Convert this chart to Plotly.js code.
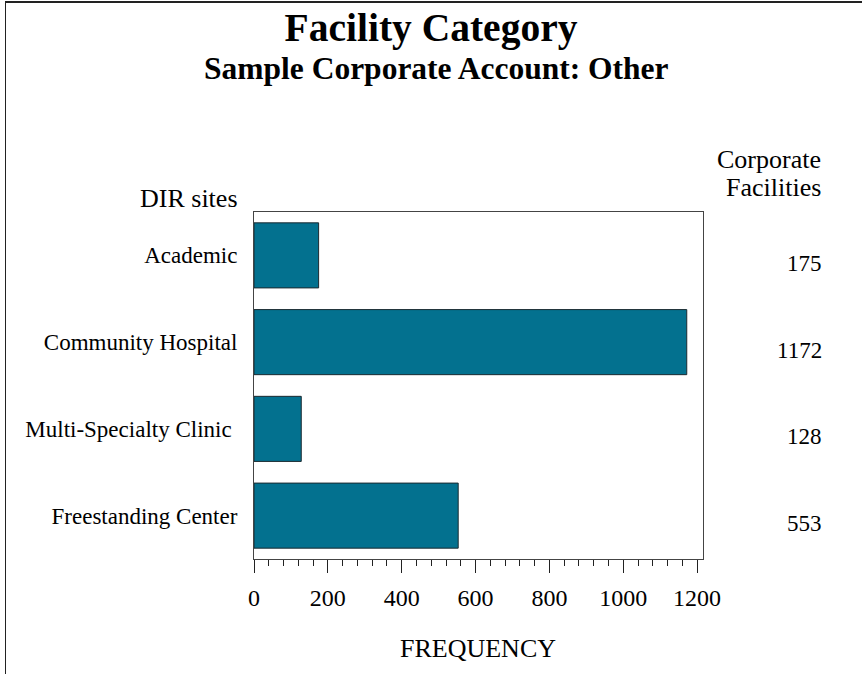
<!DOCTYPE html>
<html>
<head>
<meta charset="utf-8">
<script src="https://cdn.plot.ly/plotly-3.0.1.min.js"></script>
<style>
  html, body { margin: 0; padding: 0; background: #fff; }
  #wrap { position: relative; width: 862px; height: 674px; }
  #frame { position: absolute; left: 5px; top: 1px; width: 857px; height: 673px;
           border-top: 2px solid #222; border-left: 1px solid #222; box-sizing: border-box; pointer-events: none; z-index: 5; }
  #chart { width: 862px; height: 674px; }
</style>
</head>
<body>
<div id="wrap">
  <div id="chart"></div>
  <div id="frame"></div>
</div>
<script>
const categories = ["Academic", "Community Hospital", "Multi-Specialty Clinic ", "Freestanding Center"];
const frequencies = [175, 1172, 128, 553];
const tickValues = [0, 200, 400, 600, 800, 1000, 1200];
const tickLabels = ["0", "200", "400", "600", "800", "1000", "1200"];
const titleText = "Facility Category";
const subtitleText = "Sample Corporate Account: Other";
const leftHeader = "DIR sites";
const rightHeaderLines = ["Corporate", "Facilities"];
const xTitle = "FREQUENCY";

const FONT = "Liberation Serif, Times New Roman, serif";

const trace = {
  type: "bar",
  orientation: "h",
  y: categories,
  x: frequencies,
  marker: { color: "#03718f", line: { color: "#1b2a30", width: 1 } },
  hoverinfo: "skip"
};

const annotations = categories.map((c, i) => ({
  xref: "paper", yref: "y",
  x: (824 - 254) / 449, y: c,
  xanchor: "right", yanchor: "middle",
  yshift: -8,
  text: String(frequencies[i]),
  showarrow: false,
  font: { family: FONT, size: 23, color: "#000" }
}));

const headerYs = [159, 188];
rightHeaderLines.forEach((t, i) => annotations.push({
  xref: "paper", yref: "paper",
  x: (823 - 254) / 449, y: (559 - headerYs[i]) / 347,
  xanchor: "right", yanchor: "middle",
  text: t, showarrow: false,
  font: { family: FONT, size: 26, color: "#000" }
}));
annotations.push({
  xref: "paper", yref: "paper",
  x: (240 - 254) / 449, y: (559 - 198) / 347,
  xanchor: "right", yanchor: "middle",
  text: leftHeader, showarrow: false,
  font: { family: FONT, size: 26, color: "#000" }
});
annotations.push({
  xref: "paper", yref: "paper",
  x: (436 - 254) / 449, y: (559 - 68) / 347,
  xanchor: "center", yanchor: "middle",
  text: "<b>" + subtitleText + "</b>", showarrow: false,
  font: { family: FONT, size: 31.5, color: "#000" }
});
annotations.push({
  xref: "paper", yref: "paper",
  x: (478 - 254) / 449, y: -(648 - 559) / 347,
  xanchor: "center", yanchor: "middle",
  text: xTitle, showarrow: false,
  font: { family: FONT, size: 26, color: "#000" }
});

const layout = {
  width: 862, height: 674,
  margin: { l: 254, r: 159, t: 212, b: 115 },
  paper_bgcolor: "#fff", plot_bgcolor: "#fff",
  showlegend: false,
  bargap: 0.25,
  font: { family: FONT, size: 22, color: "#000" },
  title: {
    text: "<b>" + titleText + "</b>",
    x: 0.5, xanchor: "center",
    y: 1 - 27 / 674, yanchor: "middle", yref: "container",
    font: { family: FONT, size: 39.5, color: "#000" }
  },
  xaxis: {
    range: [0, 1216],
    tickvals: tickValues, ticktext: tickLabels,
    ticks: "outside", ticklen: 13, tickwidth: 1, tickcolor: "#222",
    minor: { dtick: 40, tick0: 0, ticks: "outside", ticklen: 6, tickwidth: 1, tickcolor: "#222" },
    showline: true, linecolor: "#444", linewidth: 1, mirror: true,
    showgrid: false, zeroline: false,
    ticklabelstandoff: 4,
    tickfont: { family: FONT, size: 24, color: "#000" },
    fixedrange: true
  },
  yaxis: {
    type: "category",
    categoryorder: "array", categoryarray: categories,
    autorange: "reversed",
    ticks: "", showline: true, linecolor: "#444", linewidth: 1, mirror: true,
    showgrid: false, zeroline: false,
    ticklabelstandoff: 11,
    tickfont: { family: FONT, size: 23, color: "#000" },
    fixedrange: true
  },
  annotations: annotations
};

Plotly.newPlot("chart", [trace], layout, { displayModeBar: false, staticPlot: true });
</script>
</body>
</html>
